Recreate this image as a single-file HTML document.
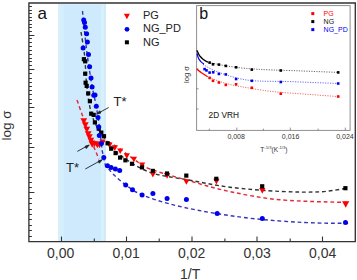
<!DOCTYPE html>
<html><head><meta charset="utf-8"><style>
html,body{margin:0;padding:0;background:#fff;width:357px;height:280px;overflow:hidden}
svg{display:block}
text{font-family:"Liberation Sans",sans-serif}
</style></head><body>
<svg width="357" height="280" viewBox="0 0 357 280">
<rect x="58.3" y="4.2" width="47.10000000000001" height="236.8" fill="#ceeafc"/>
<rect x="58.3" y="4.2" width="5.5" height="236.8" fill="#d6effc"/><rect x="101" y="4.2" width="4.400000000000006" height="236.8" fill="#d6f0fc"/><rect x="104.7" y="4.2" width="0.7" height="236.8" fill="#bfe0f2"/>
<g fill="none" stroke="#333" stroke-width="1.4" stroke-dasharray="3.8 2.9"><path d="M81 32 C81.5 35.3 83.5 46.5 84.2 52 C84.9 57.5 84.8 59.0 85.3 65 C85.8 71.0 86.0 80.2 87 88 C88.0 95.8 89.3 105.5 91 112 C92.7 118.5 94.7 122.5 97 127 C99.3 131.5 101.2 134.3 105 139 C108.8 143.7 112.5 149.4 120 155 C127.5 160.6 138.3 168.1 150 172.3 C161.7 176.5 176.7 177.7 190 180.2 C203.3 182.7 215.0 185.3 230 187.2 C245.0 189.1 265.0 190.6 280 191.4 C295.0 192.2 309.2 192.3 320 191.8 C330.8 191.3 340.8 189.1 345 188.5"/></g>
<g fill="none" stroke="#e22a36" stroke-width="1.45" stroke-dasharray="3.8 2.9"><path d="M77 100 C78.2 103.3 82.0 114.2 84 120 C86.0 125.8 87.2 131.2 89 135 C90.8 138.8 92.3 141.9 95 143 C97.7 144.1 101.7 141.1 105 141.5 C108.3 141.9 110.0 142.4 115 145.5 C120.0 148.6 129.2 156.1 135 160 C140.8 163.9 140.8 165.5 150 169 C159.2 172.5 176.7 177.2 190 181 C203.3 184.8 215.0 188.5 230 191.6 C245.0 194.7 260.2 198.0 280 199.8 C299.8 201.6 337.5 202.1 349 202.5"/><path d="M93.6 146.4 L99 159.3"/></g>
<g fill="none" stroke="#3434bc" stroke-width="1.4" stroke-dasharray="3.8 2.9"><path d="M82.5 11 C85 40 90 80 95 100 C99 120 101 140 102 150 L106.4 170"/><path d="M108.6 168.9 C115 177 125 185 135 191.5 C160 204 200 212 250 218.3 C290 222.5 320 223.5 349 223.3"/></g>
<g fill="#f00"><path d="M80.4 118.2h6.8l-3.4 6z"/><path d="M81.9 122.2h6.8l-3.4 6z"/><path d="M83.4 126.7h6.8l-3.4 6z"/><path d="M84.8 131.2h6.8l-3.4 6z"/><path d="M86.0 134.2h6.8l-3.4 6z"/><path d="M87.4 137.7h6.8l-3.4 6z"/><path d="M89.1 140.4h6.2l-3.1 5.6z"/><path d="M91.4 141.4h6.2l-3.1 5.6z"/><path d="M94.4 141.4h6.2l-3.1 5.6z"/><path d="M96.5 142.6h6.2l-3.1 5.6z"/><path d="M99.4 139.4h6.2l-3.1 5.6z"/><path d="M106.4 142.6h6.2l-3.1 5.6z"/><path d="M111.7 145.3h6.2l-3.1 5.6z"/><path d="M117.1 148.4h6.2l-3.1 5.6z"/><path d="M123.7 153.3h6.2l-3.1 5.6z"/><path d="M130.8 156.7h6.2l-3.1 5.6z"/><path d="M139.0 162.4h6.2l-3.1 5.6z"/><path d="M149.8 172.0h6.2l-3.1 5.6z"/><path d="M164.0 173.1h6.2l-3.1 5.6z"/><path d="M183.3 179.2h6.2l-3.1 5.6z"/><path d="M213.3 178.8h6.2l-3.1 5.6z"/><path d="M259.2 188.1h6.2l-3.1 5.6z"/><path d="M88.6 141.3h7.2l-3.6 6.4z"/><path d="M93.8 141.8h7.2l-3.6 6.4z"/><path d="M342.1 201.3h7.2l-3.6 6.4z"/></g>
<g fill="#000"><rect x="81.8" y="57.1" width="4.2" height="4.2"/><rect x="83.1" y="59.2" width="4.2" height="4.2"/><rect x="83.1" y="71.6" width="4.2" height="4.2"/><rect x="83.5" y="80.6" width="4.2" height="4.2"/><rect x="84.6" y="83.8" width="4.2" height="4.2"/><rect x="86.1" y="91.3" width="4.2" height="4.2"/><rect x="87.8" y="99.1" width="4.2" height="4.2"/><rect x="89.1" y="111.6" width="4.2" height="4.2"/><rect x="91.6" y="112.8" width="4.2" height="4.2"/><rect x="92.8" y="120.3" width="4.2" height="4.2"/><rect x="96.6" y="126.6" width="4.2" height="4.2"/><rect x="99.2" y="130.5" width="4.2" height="4.2"/><rect x="101.9" y="134.1" width="4.2" height="4.2"/><rect x="105.5" y="141.2" width="4.2" height="4.2"/><rect x="109.1" y="146.6" width="4.2" height="4.2"/><rect x="113.5" y="151.0" width="4.2" height="4.2"/><rect x="118.0" y="155.5" width="4.2" height="4.2"/><rect x="123.3" y="158.2" width="4.2" height="4.2"/><rect x="129.9" y="161.7" width="4.2" height="4.2"/><rect x="139.9" y="165.3" width="4.2" height="4.2"/><rect x="150.7" y="168.8" width="4.2" height="4.2"/><rect x="164.9" y="171.4" width="4.2" height="4.2"/><rect x="184.2" y="173.5" width="4.2" height="4.2"/><rect x="214.2" y="176.7" width="4.2" height="4.2"/><rect x="260.1" y="184.2" width="4.2" height="4.2"/><rect x="343.3" y="186.1" width="4.2" height="4.2"/></g>
<g fill="#0000f0"><circle cx="83.7" cy="20.1" r="2.5"/><circle cx="84.5" cy="22.5" r="2.5"/><circle cx="85.3" cy="27.3" r="2.5"/><circle cx="86.6" cy="33.8" r="2.5"/><circle cx="87.4" cy="42.1" r="2.5"/><circle cx="83.1" cy="48.1" r="2.5"/><circle cx="88.5" cy="54.6" r="2.5"/><circle cx="89.6" cy="66.8" r="2.5"/><circle cx="91" cy="78.1" r="2.5"/><circle cx="92.1" cy="87.1" r="2.5"/><circle cx="93.8" cy="95.2" r="2.5"/><circle cx="95" cy="95" r="2.5"/><circle cx="96.3" cy="106.3" r="2.5"/><circle cx="98" cy="117.5" r="2.5"/><circle cx="98.8" cy="127" r="2.5"/><circle cx="99.3" cy="135.4" r="2.5"/><circle cx="101.4" cy="143.4" r="2.5"/><circle cx="103.8" cy="157.6" r="2.5"/><circle cx="107.5" cy="165.7" r="2.5"/><circle cx="111.1" cy="167.4" r="2.5"/><circle cx="115.4" cy="168.9" r="2.5"/><circle cx="119.7" cy="170.4" r="2.5"/><circle cx="125.7" cy="185" r="2.5"/><circle cx="132.5" cy="189.7" r="2.5"/><circle cx="142.1" cy="195" r="2.5"/><circle cx="152.9" cy="193.6" r="2.5"/><circle cx="167.1" cy="198.6" r="2.5"/><circle cx="186.4" cy="199.6" r="2.5"/><circle cx="217.2" cy="213.4" r="2.5"/><circle cx="262.3" cy="218.4" r="2.5"/><circle cx="345.5" cy="222.5" r="2.5"/></g>
<path d="M28.9 3.0H355.3V241.6H28.9Z" fill="none" stroke="#333" stroke-width="1.35"/>
<path d="M28.9 6.5h3.0M28.9 10.5h3.0M28.9 13.5h3.0M28.9 17.5h3.0M28.9 20.5h3.0M28.9 24.5h3.0M28.9 27.5h3.0M28.9 31.5h3.0M28.9 35.5h5.5M28.9 38.5h3.0M28.9 42.5h3.0M28.9 46.5h3.0M28.9 50.5h3.0M28.9 54.5h3.0M28.9 58.5h3.0M28.9 61.5h3.0M28.9 65.5h3.0M28.9 69.5h5.5M28.9 73.5h3.0M28.9 78.5h3.0M28.9 82.5h3.0M28.9 86.5h3.0M28.9 90.5h3.0M28.9 94.5h3.0M28.9 99.5h3.0M28.9 103.5h3.0M28.9 107.5h5.5M28.9 112.5h3.0M28.9 116.5h3.0M28.9 121.5h3.0M28.9 125.5h3.0M28.9 129.5h3.0M28.9 134.5h3.0M28.9 138.5h3.0M28.9 143.5h3.0M28.9 147.5h5.5M28.9 152.5h3.0M28.9 157.5h3.0M28.9 162.5h3.0M28.9 167.5h3.0M28.9 172.5h3.0M28.9 177.5h3.0M28.9 182.5h3.0M28.9 187.5h3.0M28.9 192.5h5.5M28.9 198.5h3.0M28.9 203.5h3.0M28.9 209.5h3.0M28.9 214.5h3.0M28.9 219.5h3.0M28.9 225.5h3.0M28.9 230.5h3.0M28.9 236.5h3.0M61.5 241.6v-5M126.5 241.6v-5M192 241.6v-5M257 241.6v-5M322.5 241.6v-5M94.3 241.6v-3M159.2 241.6v-3M224.9 241.6v-3M290.2 241.6v-3" stroke="#333" stroke-width="1.1" fill="none"/>
<text x="37.5" y="18.5" font-size="17" fill="#111">a</text>
<g font-size="14" fill="#333">
<text x="47" y="257.8">0,00</text><text x="112.5" y="257.8">0,01</text><text x="178" y="257.8">0,02</text><text x="243.5" y="257.8">0,03</text><text x="309" y="257.8">0,04</text>
<text x="180" y="279">1/T</text>
</g>
<text transform="translate(11.4 140.5) rotate(-90)" font-size="13.5" fill="#333">log σ</text>
<g font-size="13" fill="#222"><text x="113.5" y="105.8">T*</text><text x="66" y="171.5">T*</text></g>
<g stroke="#222" stroke-width="0.9" fill="#222">
<path d="M108.7 107.5L98 113.3" fill="none"/><path d="M96.5 114.2l3.2-3.4l1.2 2.2z"/>
<path d="M77.3 151.4L87.5 145.8" fill="none"/><path d="M89.2 145l-2.9 3.5l-1.2-2.2z"/>
<path d="M85.3 169L100.5 160.6" fill="none"/><path d="M102.3 159.7l-3 3.5l-1.2-2.2z"/>
</g>
<g font-size="11" fill="#222"><text x="143" y="19">PG</text><text x="143" y="32.4">NG_PD</text><text x="143" y="45.6">NG</text></g>
<path d="M123.9 13.7h6l-3 5.5z" fill="#f00"/>
<circle cx="127" cy="29.3" r="2.4" fill="#0000f0"/>
<rect x="124.9" y="40.3" width="4" height="4" fill="#000"/>
<!-- inset -->
<rect x="196.6" y="5.6" width="153.50000000000003" height="124.80000000000001" fill="#fff" stroke="#8a8a8a" stroke-width="0.95"/>
<path d="M209.3 130.4v-1.8M263.4 130.4v-1.8M318.1 130.4v-1.8M236.8 130.4v-2.8M290.3 130.4v-2.8M345.3 130.4v-2.8M196.6 69h2M196.6 88.8h2M196.6 109h2" stroke="#666" stroke-width="0.7" fill="none"/>
<text x="199.3" y="18.6" font-size="16" fill="#111">b</text>
<g font-size="7"><text x="323.6" y="16" fill="#f00">PG</text><text x="323.6" y="24" fill="#111">NG</text><text x="323.6" y="32" fill="#0000f0">NG_PD</text></g>
<rect x="311.3" y="12.1" width="3" height="3" fill="#f00"/><rect x="311.3" y="20.1" width="3" height="3" fill="#000"/><rect x="311.3" y="28.1" width="3" height="3" fill="#0000f0"/>
<g fill="none" stroke-width="1.0" stroke-dasharray="1.2 1.3">
<path d="M207 61.8 C215 64 225 65.8 236 67.3 S265 70 290 70.5 L338.2 72.4" stroke="#6a6a6a"/>
<path d="M203 64.5 C212 70 220 73.5 236 77.8 S265 81 290 81.6 L338.2 83.5" stroke="#6a6af2"/>
<path d="M207 76.3 C215 80 225 84 240 86.5 S270 92 290 93 L338.2 96.6" stroke="#f26a6a"/>
</g>
<g fill="none" stroke-width="1.3" stroke-linecap="round">
<path d="M197.1 50.6 C198.3 54.5 200 57 203 59.3 S206.5 61.3 207.5 61.8" stroke="#000"/>
<path d="M197.2 54 C197.8 58 199 61 203.5 63.8" stroke="#0000f0"/>
<path d="M197.1 69.3 C199 71.3 201 72.5 204.6 74.8 L207 76.3" stroke="#f00"/>
</g>
<g fill="#000"><rect x="208.3" y="61.3" width="2.6" height="2.6"/><rect x="211.7" y="63.0" width="2.6" height="2.6"/><rect x="217.6" y="63.3" width="2.6" height="2.6"/><rect x="224.5" y="64.6" width="2.6" height="2.6"/><rect x="234.8" y="66.0" width="2.6" height="2.6"/><rect x="250.5" y="68.3" width="2.6" height="2.6"/><rect x="279.5" y="69.2" width="2.6" height="2.6"/><rect x="336.9" y="71.1" width="2.6" height="2.6"/></g><g fill="#0000f0"><rect x="203.3" y="67.8" width="2.6" height="2.6"/><rect x="205.2" y="69.1" width="2.6" height="2.6"/><rect x="208.3" y="71.3" width="2.6" height="2.6"/><rect x="211.9" y="71.0" width="2.6" height="2.6"/><rect x="217.6" y="72.6" width="2.6" height="2.6"/><rect x="224.5" y="73.1" width="2.6" height="2.6"/><rect x="234.8" y="77.7" width="2.6" height="2.6"/><rect x="250.5" y="79.5" width="2.6" height="2.6"/><rect x="279.5" y="80.7" width="2.6" height="2.6"/><rect x="336.9" y="82.2" width="2.6" height="2.6"/></g><g fill="#f00"><rect x="208.3" y="76.6" width="2.6" height="2.6"/><rect x="211.7" y="79.5" width="2.6" height="2.6"/><rect x="217.6" y="81.2" width="2.6" height="2.6"/><rect x="224.5" y="83.6" width="2.6" height="2.6"/><rect x="234.8" y="83.0" width="2.6" height="2.6"/><rect x="250.5" y="86.5" width="2.6" height="2.6"/><rect x="279.5" y="92.4" width="2.6" height="2.6"/><rect x="336.9" y="95.2" width="2.6" height="2.6"/></g>
<text transform="translate(208.6 118.1) scale(0.89 1)" font-size="9.3" fill="#222" stroke="#222" stroke-width="0.08">2D VRH</text>
<g font-size="7" fill="#333"><text x="227.4" y="138.6">0,008</text><text x="281.8" y="138.6">0,016</text><text x="336.2" y="138.6">0,024</text></g>
<text transform="translate(188.8 83) rotate(-90)" font-size="7.6" fill="#333">log σ</text>
<text x="260.3" y="151.5" font-size="6.6" fill="#333">T<tspan font-size="4.2" dy="-2.8">-1/3</tspan><tspan dy="2.8">(K</tspan><tspan font-size="4.2" dy="-2.8">-1/3</tspan><tspan dy="2.8">)</tspan></text>
</svg>
</body></html>
